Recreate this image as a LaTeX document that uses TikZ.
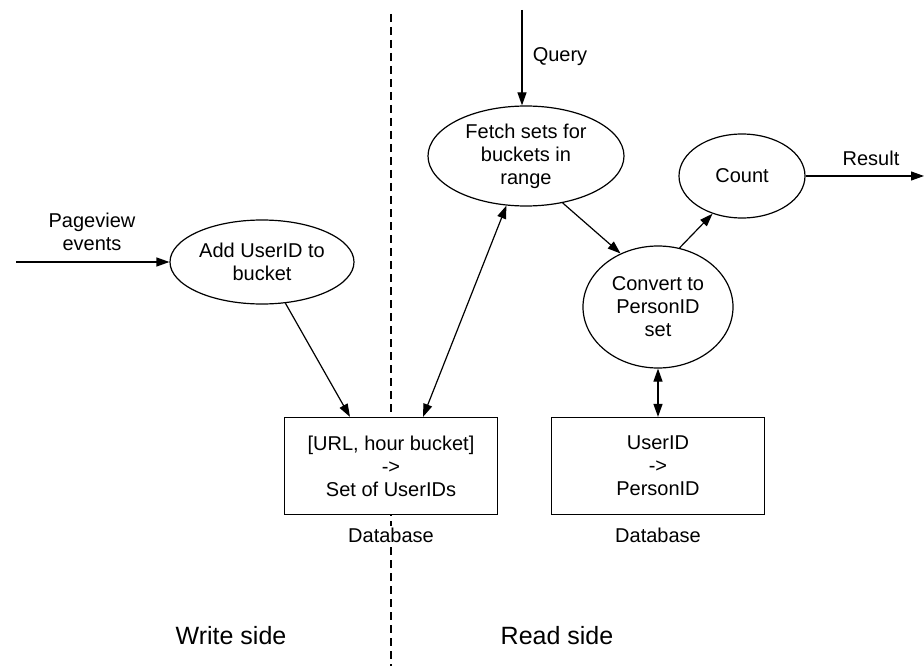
\documentclass[tikz,border=0pt]{standalone}
\usepackage{fontspec}
\setmainfont{Liberation Sans}
\usetikzlibrary{arrows.meta,shapes.geometric,calc}
\begin{document}
\begin{tikzpicture}[x=1pt,y=-1pt,
  every node/.style={font=\fontsize{20}{23}\selectfont, align=center, inner sep=0pt},
  ell/.style={draw, ellipse, line width=1.2pt},
  dbbox/.style={draw, rectangle, line width=1.2pt, minimum width=213pt, minimum height=97pt},
  conn/.style={line width=1.2pt, -{Triangle[length=13pt,width=9pt]}},
  biconn/.style={line width=1.2pt, {Triangle[length=13pt,width=9pt]}-{Triangle[length=13pt,width=9pt]}},
  sidelabel/.style={font=\fontsize{25}{29}\selectfont}]
\useasboundingbox (0,0) rectangle (924,666);
% divider
\coordinate (dtop) at (391,14);
\coordinate (dbot) at (391,666);
\draw[line width=1.2pt, dash pattern=on 8pt off 5pt] (dtop) -- (dbot);
% nodes
\node[ell, minimum width=184pt, minimum height=84pt] (add) at (262,262) {Add UserID to\\bucket};
\node[ell, minimum width=196pt, minimum height=100pt] (fetch) at (526,156) {Fetch sets for\\buckets in\\range};
\node[ell, minimum width=126pt, minimum height=84pt] (count) at (742,176) {Count};
\node[ell, minimum width=150pt, minimum height=122pt] (conv) at (658,307) {Convert to\\PersonID\\set};
\node[dbbox, fill=white] (db1) at (391,466) {[URL, hour bucket]\\->\\Set of UserIDs};
\node[dbbox] (db2) at (658,466) {UserID\\->\\PersonID};
\node[fill=white, inner sep=2pt] (dbl1) at (391,535) {Database};
\node (dbl2) at (658,535) {Database};
\node[sidelabel] (ws) at (231,636) {Write side};
\node[sidelabel] (rs) at (557,636) {Read side};
% free ends
\coordinate (pvstart) at (16,262);
\coordinate (qstart) at (522,10);
\coordinate (resend) at (924,176);
% labels
\node (pvl) at (92,232) {Pageview\\events};
\node (ql) at (560,57) {Query};
\node (rl) at (871,158) {Result};
% connectors
\draw[conn] (pvstart) -- (add.west);
\draw[conn] (qstart) -- (qstart |- fetch.north);
\draw[conn] (add) -- ($(db1.north)+(-41,0)$);
\draw[biconn] ($(db1.north)+(32,0)$) -- (fetch);
\draw[conn] (fetch.-52) -- (conv.125);
\draw[conn] (conv.70) -- (count.-128);
\draw[biconn] (conv.south) -- (db2.north);
\draw[conn] (count.east) -- (resend);
\end{tikzpicture}
\end{document}
